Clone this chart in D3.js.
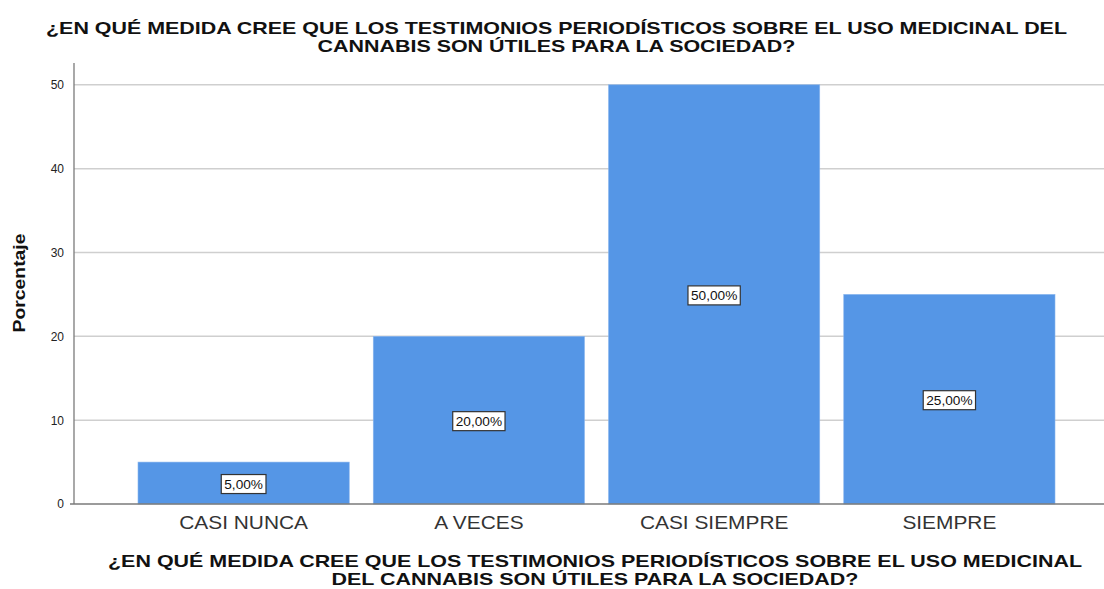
<!DOCTYPE html>
<html><head><meta charset="utf-8">
<script src="https://cdn.jsdelivr.net/npm/d3@7"></script>
<style>
body{margin:0;background:#fff;}
svg{display:block;}
text{font-family:"Liberation Sans",Arial,sans-serif;}
</style></head>
<body>
<svg id="chart" width="1104" height="589"></svg>
<script>
const titleLines = ["¿EN QUÉ MEDIDA CREE QUE LOS TESTIMONIOS PERIODÍSTICOS SOBRE EL USO MEDICINAL DEL", "CANNABIS SON ÚTILES PARA LA SOCIEDAD?"];
const xTitleLines = ["¿EN QUÉ MEDIDA CREE QUE LOS TESTIMONIOS PERIODÍSTICOS SOBRE EL USO MEDICINAL", "DEL CANNABIS SON ÚTILES PARA LA SOCIEDAD?"];
const yTitle = "Porcentaje";
const categories = ["CASI NUNCA", "A VECES", "CASI SIEMPRE", "SIEMPRE"];
const values = [5, 20, 50, 25];
const valueLabels = ["5,00%", "20,00%", "50,00%", "25,00%"];
const yTicks = [0, 10, 20, 30, 40, 50];

(function(){
const svg = d3.select("#chart");
const pLeft = 74, pRight = 1104, pTop = 63, pBottom = 504;

const x = d3.scaleBand().domain(categories).range([126, 1067]).paddingInner(0.102).paddingOuter(0.051);
const y = d3.scaleLinear().domain([0, 52.6]).range([pBottom, pTop]);

// gridlines
svg.append("g").selectAll("line").data(yTicks.filter(d => d > 0)).join("line")
  .attr("x1", pLeft).attr("x2", pRight)
  .attr("y1", d => y(d)).attr("y2", d => y(d))
  .attr("stroke", "#cfcfcf").attr("stroke-width", 1.5);

// bars
svg.append("g").selectAll("rect").data(values).join("rect")
  .attr("x", (d, i) => x(categories[i]))
  .attr("width", x.bandwidth())
  .attr("y", d => y(d))
  .attr("height", d => y(0) - y(d))
  .attr("fill", "#5596e6")
  .attr("stroke", "#8ab6ee").attr("stroke-width", 0.6);

// y axis
const yAxis = d3.axisLeft(y).tickValues(yTicks).tickSize(0).tickPadding(10);
const ya = svg.append("g").attr("transform", `translate(${pLeft},0)`).call(yAxis);
ya.select(".domain").remove();
ya.selectAll("text").attr("font-size", 12).attr("fill", "#222").attr("font-family", "Liberation Sans, Arial, sans-serif");
svg.append("line").attr("x1", pLeft).attr("x2", pLeft).attr("y1", pTop).attr("y2", pBottom)
  .attr("stroke", "#7a7a7a").attr("stroke-width", 1.3);

// x axis
const xAxis = d3.axisBottom(x).tickSize(0).tickPadding(12);
const xa = svg.append("g").attr("transform", `translate(0,${pBottom})`).call(xAxis);
xa.select(".domain").remove();
xa.selectAll("text").attr("font-size", 18).attr("fill", "#333").attr("font-family", "Liberation Sans, Arial, sans-serif")
  .each(function(){ const w = this.getComputedTextLength(); d3.select(this).attr("textLength", w*1.16).attr("lengthAdjust","spacingAndGlyphs"); });
svg.append("line").attr("x1", pLeft - 4).attr("x2", pRight).attr("y1", pBottom).attr("y2", pBottom)
  .attr("stroke", "#7a7a7a").attr("stroke-width", 1.3);

// value labels
const lg = svg.append("g").selectAll("g").data(values).join("g")
  .attr("transform", (d, i) => `translate(${x(categories[i]) + x.bandwidth()/2},${(y(d)+y(0))/2 + 1})`);
lg.each(function(d, i){
  const g = d3.select(this);
  const t = g.append("text").text(valueLabels[i]).attr("font-size", 13).attr("fill", "#111")
    .attr("text-anchor", "middle").attr("dy", "0.36em");
  const w = t.node().getComputedTextLength();
  t.attr("textLength", w*1.05).attr("lengthAdjust","spacingAndGlyphs");
  g.insert("rect", "text").attr("x", -w*1.05/2 - 3).attr("y", -9.5).attr("width", w*1.05 + 6).attr("height", 19)
    .attr("fill", "#fff").attr("stroke", "#333").attr("stroke-width", 1.2);
});

// titles
function stretchLines(lines, targetFirst, cx, baselines, size){
  const ts = lines.map((s, i) => svg.append("text").text(s).attr("x", cx).attr("y", baselines[i])
    .attr("text-anchor", "middle").attr("font-size", size).attr("font-weight", "bold").attr("fill", "#111"));
  const ratio = targetFirst / ts[0].node().getComputedTextLength();
  ts.forEach(t => { const w = t.node().getComputedTextLength(); t.attr("textLength", w*ratio).attr("lengthAdjust","spacingAndGlyphs"); });
}
stretchLines(titleLines, 1021, 556.5, [33.5, 51.5], 17);
stretchLines(xTitleLines, 974, 595, [566.5, 584.5], 17);

// y title
const yt = svg.append("text").text(yTitle).attr("transform", "translate(25,283) rotate(-90)")
  .attr("text-anchor", "middle").attr("font-size", 16).attr("font-weight", "bold").attr("fill", "#111");
yt.attr("textLength", 99).attr("lengthAdjust", "spacingAndGlyphs");
})();
</script>
</body></html>
